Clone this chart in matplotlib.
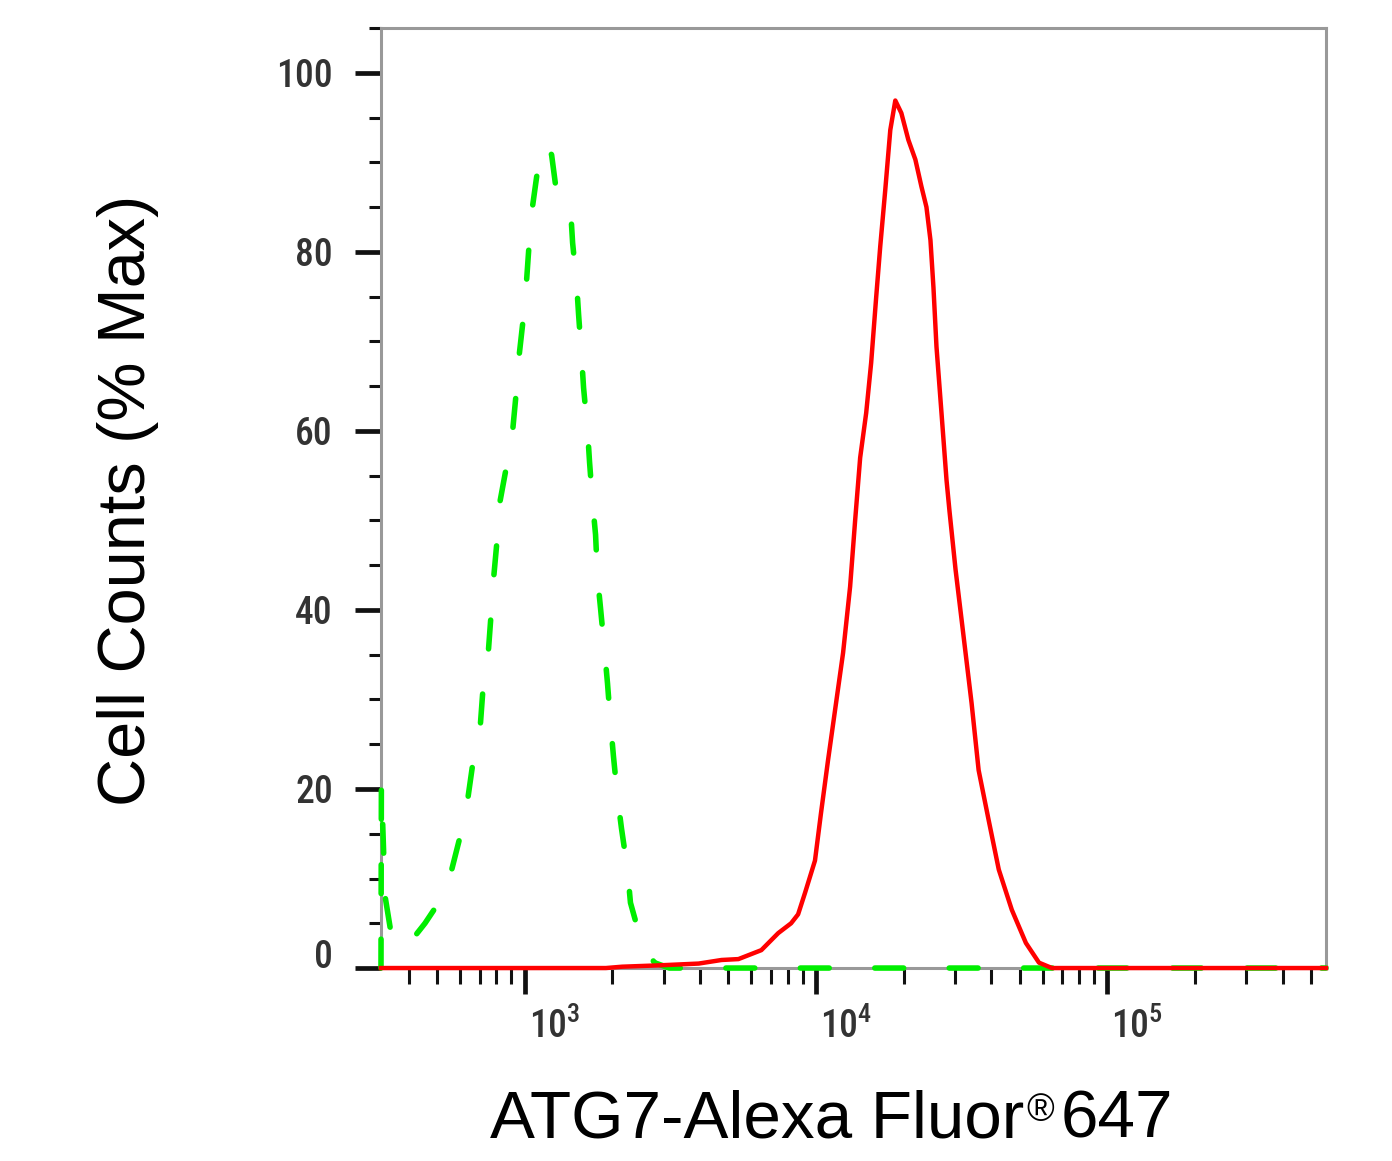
import matplotlib
matplotlib.use("Agg")
import matplotlib.pyplot as plt
from matplotlib import font_manager
from matplotlib.ticker import FixedLocator, FixedFormatter, NullFormatter
from matplotlib.transforms import ScaledTranslation

# isotype control (green dashed)
ctrl_x = [321, 322, 331.6, 350.4, 373.2, 413.4, 454.6, 499.5, 553.6, 599.1, 633.1,
          663.7, 701.4, 718.3, 747.2, 765.2, 777.3, 802.2, 808.5, 860.9, 902.8,
          931.5, 946.2, 984.3, 1007.9, 1032.0, 1048.4, 1099.2, 1161.6, 1200, 1237.2,
          1276.8, 1437.4, 1460.3, 1507.1, 1531.0, 1567.7, 1592.6, 1643.7, 1669.7,
          1709.8, 1750.8, 1778.3, 1820.9, 1879.3, 1924.2, 1970.3, 2017.6, 2082.2,
          2149.0, 2252.9, 2307.0, 2515.9, 2787.4, 3137.6, 564000]
ctrl_y = [0, 20.5, 8.0, 3.2, 2.3, 3.3, 5.0, 7.0, 10.2, 14.6, 18.2,
          22.9, 26.4, 31.0, 34.6, 39.2, 42.6, 47.5, 50.8, 55.6, 59.0,
          63.7, 67.0, 72.0, 75.4, 80.2, 83.6, 88.4, 91.7, 92.0, 90.8,
          87.4, 84.7, 81.0, 76.5, 73.0, 68.3, 64.8, 60.0, 56.5,
          52.0, 48.4, 43.6, 40.2, 35.5, 31.8, 27.4, 23.6, 19.1,
          15.6, 11.0, 7.3, 2.9, 0.6, 0, 0]

# ATG7 stained sample (red solid)
atg7_x = [321, 1900, 2160, 2889, 3956, 4740, 5418, 6493, 7420, 8215, 8683, 9172,
          9922, 10405, 11000, 11721, 12390, 13099, 13630, 14182, 14874, 15470,
          16103, 16622, 17294, 17996, 18725, 19640, 20760, 21944, 23015, 23950,
          24723, 25318, 25929, 26977, 28072, 28746, 30150, 31623, 34220, 36183,
          39180, 42430, 47040, 52580, 58310, 64600, 564000]
atg7_y = [0, 0, 0.15, 0.3, 0.5, 0.9, 1.0, 2.0, 3.9, 5.0, 6.0, 8.4,
          12.0, 17.3, 23.2, 29.6, 35.2, 42.6, 50.0, 57.0, 62.0, 67.6,
          75.0, 80.6, 86.9, 93.6, 96.9, 95.5, 92.5, 90.3, 87.3, 85.0,
          81.3, 76.0, 69.4, 62.0, 54.5, 51.0, 44.5, 38.9, 29.6, 22.1,
          16.5, 11.0, 6.5, 2.8, 0.6, 0, 0]

x_major = [1e3, 1e4, 1e5]
x_labels = [r"$\mathregular{10^{3}}$", r"$\mathregular{10^{4}}$", r"$\mathregular{10^{5}}$"]
y_major = [0, 20, 40, 60, 80, 100]
y_labels = ["0", "20", "40", "60", "80", "100"]

x_lo, x_hi = 321, 5.64e5

# narrow face for the tick numbers if one is around
names = {f.name for f in font_manager.fontManager.ttflist}
tick_font = "Liberation Sans"
for cand in ["Liberation Sans Narrow", "Roboto Condensed", "DejaVu Sans Condensed",
             "Open Sans Condensed", "Noto Sans Condensed"]:
    if cand in names:
        tick_font = cand
        break
label_font = ["Liberation Sans", "DejaVu Sans"]
plt.rcParams["font.family"] = [tick_font, "DejaVu Sans"]

fig = plt.figure(figsize=(13.92, 11.61), dpi=100)
ax = fig.add_axes([0.2737, 0.1662, 0.6789, 0.8097])

ax.plot(ctrl_x, ctrl_y, color="#00ee00", lw=4, dashes=(5.2, 8.2),
        dash_capstyle="round", clip_on=False, zorder=3)
ax.plot(atg7_x, atg7_y, color="#ff0000", lw=3.2, clip_on=False, zorder=4,
        solid_joinstyle="round")

ax.set_xscale("log")
ax.set_xlim(x_lo, x_hi)
ax.set_ylim(0, 105)

x_minor = [m * 10 ** e for e in (2, 3, 4, 5) for m in range(2, 10)
           if x_lo < m * 10 ** e < x_hi]
ax.xaxis.set_major_locator(FixedLocator(x_major))
ax.xaxis.set_major_formatter(FixedFormatter(x_labels))
ax.xaxis.set_minor_locator(FixedLocator(x_minor))
ax.xaxis.set_minor_formatter(NullFormatter())
ax.yaxis.set_major_locator(FixedLocator(y_major))
ax.yaxis.set_major_formatter(FixedFormatter(y_labels))
ax.yaxis.set_minor_locator(FixedLocator([v for v in range(5, 106, 5) if v % 20]))

for s in ax.spines.values():
    s.set_color("#999999")
    s.set_linewidth(2.2)

ax.tick_params(which="both", direction="out", color="#111111", top=False, right=False)
ax.tick_params(which="major", length=18.7, width=3.4, labelsize=27, labelcolor="#333333")
ax.tick_params(axis="y", which="major", pad=16)
ax.tick_params(axis="x", which="major", pad=10)
ax.tick_params(axis="y", which="minor", length=9, width=2.2)
ax.tick_params(axis="x", which="minor", length=11.5, width=2.2)

ax.set_ylabel("Cell Counts (% Max)", fontsize=48, family=label_font, color="black")
ax.yaxis.set_label_coords(-0.2345, 0.498)

# x label with a small raised (R) sign
base = fig.text(490 / 1392, 24 / 1161, "ATG7-Alexa Fluor", fontsize=48.5,
                family=label_font, ha="left", va="baseline", color="black")
reg = ax.annotate("®", xy=(1, 1), xycoords=base, xytext=(1.5, -3),
                  textcoords="offset points", fontsize=27, family=label_font,
                  ha="left", va="top", annotation_clip=False)
ax.annotate("647", xy=(1, 0), xycoords=(reg, base), xytext=(5, 0),
            textcoords="offset points", fontsize=48.5, family=label_font,
            ha="left", va="bottom", annotation_clip=False)

fig.canvas.draw()
shift = ScaledTranslation(0.30, 0, fig.dpi_scale_trans)
for lbl in ax.get_xticklabels():
    lbl.set_transform(lbl.get_transform() + shift)
    lbl.set_fontweight("medium")
for lbl in ax.get_yticklabels():
    lbl.set_fontweight("medium")
    if lbl.get_text() == "0":
        lbl.set_va("baseline")

fig.savefig("out.png", dpi=100, facecolor="white")
